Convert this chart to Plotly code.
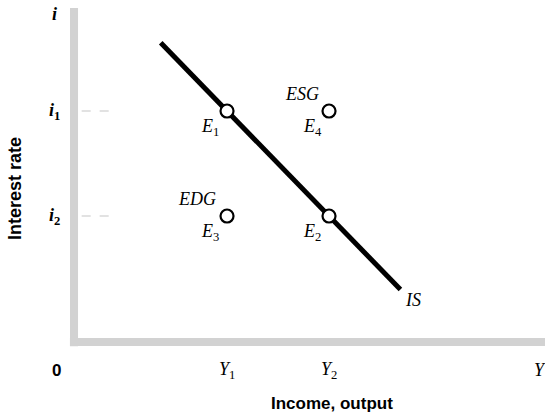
import plotly.graph_objects as go

UP = "<span style='font-style:normal'>{}</span>"

# IS curve (income vs interest rate)
is_income = [1.7, 6.4]
is_rate = [7.125, 1.25]

# Equilibrium points
eq_names = ["E<sub>" + UP.format(n) + "</sub>" for n in ("1", "2", "3", "4")]
eq_income = [3.0, 5.0, 3.0, 5.0]
eq_rate = [5.5, 3.0, 3.0, 5.5]

# Regions: excess supply / excess demand of goods
region_names = ["ESG", "EDG"]
region_income = [5.0, 3.0]
region_rate = [5.5, 3.0]

# Axis tick labels
income_ticks = [0.0, 3.0, 5.0, 9.14]
income_labels = ["<b>0</b>", "Y<sub>" + UP.format("1") + "</sub>",
                 "Y<sub>" + UP.format("2") + "</sub>", "Y"]
rate_ticks = [7.8, 5.5, 3.0]
rate_labels = ["i", "i<sub>" + UP.format("1") + "</sub>", "i<sub>" + UP.format("2") + "</sub>"]

X_MIN, X_MAX = -0.667, 9.235
Y_MIN, Y_MAX = -0.714, 8.143
AXIS_TOP = 7.95

serif = dict(family="Liberation Serif", size=18, color="black", style="italic")
serif_b = dict(family="Liberation Serif", size=18, color="black", style="italic", weight="bold")
sans = dict(family="Liberation Sans", size=17, color="black", weight="bold")
sans_y = dict(family="Liberation Sans", size=18, color="black", weight="bold")
axis_grey = "#d2d2d2"

fig = go.Figure()

# Axes drawn as thick grey bars
fig.add_shape(type="line", x0=0, x1=0, y0=-0.1, y1=AXIS_TOP,
              line=dict(color=axis_grey, width=8), layer="below")
fig.add_shape(type="line", x0=-0.08, x1=X_MAX, y0=0, y1=0,
              line=dict(color=axis_grey, width=8), layer="below")
# faint tick dashes at i1 and i2
for r in rate_ticks[1:]:
    fig.add_shape(type="line", x0=0.15, x1=0.75, y0=r, y1=r,
                  line=dict(color="#e2e2e2", width=2, dash="dash"), layer="below")

fig.add_trace(go.Scatter(
    x=is_income, y=is_rate, mode="lines",
    line=dict(color="black", width=5), hoverinfo="skip", showlegend=False))

fig.add_trace(go.Scatter(
    x=eq_income, y=eq_rate, mode="markers",
    marker=dict(size=13, color="white", line=dict(color="black", width=2.2)),
    hoverinfo="skip", showlegend=False, cliponaxis=False))

annotations = []
for name, xv, yv in zip(eq_names, eq_income, eq_rate):
    annotations.append(dict(x=xv, y=yv, text=name, showarrow=False,
                            xshift=-17, yshift=-16, font=serif))
for name, xv, yv in zip(region_names, region_income, region_rate):
    dx = -27 if name == "ESG" else -30
    annotations.append(dict(x=xv, y=yv, text=name, showarrow=False,
                            xshift=dx, yshift=17, font=serif))
annotations.append(dict(x=is_income[-1], y=is_rate[-1], text="IS", showarrow=False,
                        xshift=13, yshift=-10, font=serif))

for xv, lab in zip(income_ticks, income_labels):
    f = sans if xv == 0 else serif
    annotations.append(dict(x=xv, y=-0.667, text=lab, showarrow=False,
                            xshift=-18 if xv == 0 else 0, font=f))
for yv, lab in zip(rate_ticks, rate_labels):
    annotations.append(dict(x=0, y=yv, text=lab, showarrow=False,
                            xshift=-20, font=serif_b))

# axis titles (plot area spans x pixels 40..545, y pixels 0..372)
annotations.append(dict(xref="paper", yref="paper",
                        x=(332 - 40) / 505, y=(372 - 403) / 372,
                        xanchor="center", yanchor="middle",
                        text="Income, output", showarrow=False, font=sans))
annotations.append(dict(xref="paper", yref="paper",
                        x=(15 - 40) / 505, y=(372 - 189) / 372,
                        xanchor="center", yanchor="middle",
                        text="Interest rate", textangle=-90, showarrow=False, font=sans_y))

fig.update_layout(
    width=545, height=412,
    margin=dict(l=40, r=0, t=0, b=40),
    paper_bgcolor="white", plot_bgcolor="white",
    xaxis=dict(range=[X_MIN, X_MAX], visible=False, fixedrange=True),
    yaxis=dict(range=[Y_MIN, Y_MAX], visible=False, fixedrange=True),
    annotations=annotations,
)

fig.write_html("out.html")
